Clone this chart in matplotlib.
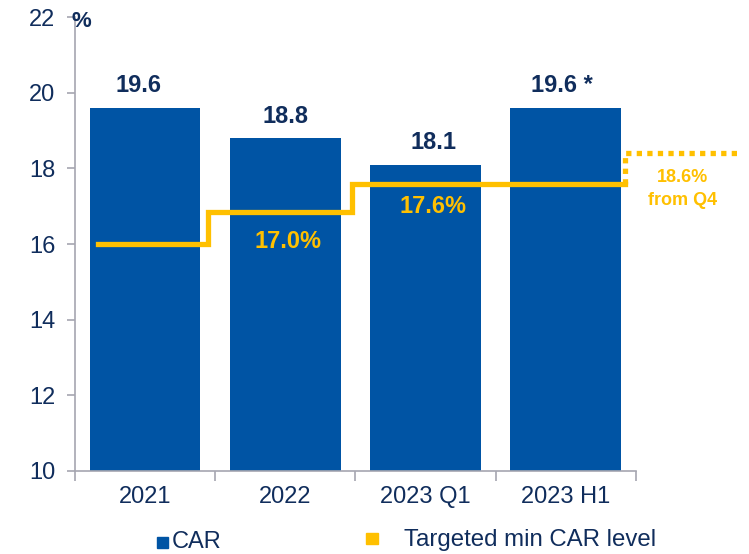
import matplotlib
matplotlib.use('Agg')
import matplotlib.pyplot as plt
from matplotlib.patches import Rectangle
import numpy as np

plt.rcParams['font.family'] = ['Liberation Sans', 'DejaVu Sans']

# data
categories = ['2021', '2022', '2023 Q1', '2023 H1']
car = [19.6, 18.8, 18.1, 19.6]
car_labels = ['19.6', '18.8', '18.1', '19.6 *']
target_levels = [16.0, 16.85, 17.6]
target_labels = ['17.0%', '17.6%']
future_level = 18.4
future_label = '18.6%\nfrom Q4'

blue = '#0054A4'
gold = '#FFC000'
navy = '#102D5C'
grey = '#A6A6B0'

fig = plt.figure(figsize=(7.49, 5.54), dpi=100)
ax = fig.add_axes([0.100, 0.150, 0.749, 0.819])

x = np.arange(len(categories))
ax.bar(x, car, width=0.79, bottom=0, color=blue, zorder=2)
ax.set_ylim(10, 22)
ax.set_xlim(-0.5, 3.5)

lab_dx = [-0.05, 0.0, 0.06, -0.03]
for xi, v, lab, dx in zip(x, car, car_labels, lab_dx):
  ax.text(xi + dx, v + 0.28, lab, ha='center', va='bottom', fontsize=17,
          fontweight='bold', color=navy)

# targeted min CAR step line
sx = [-0.335, 0.45, 0.45, 1.475, 1.475, 3.42]
sy = [target_levels[0], target_levels[0], target_levels[1], target_levels[1],
      target_levels[2], target_levels[2]]
ax.plot(sx, sy, color=gold, lw=3.8, solid_joinstyle='miter', zorder=3, clip_on=False)
ax.plot([3.42, 3.42, 4.24], [target_levels[2], future_level, future_level],
        color=gold, lw=3.8, ls=(0, (1, 1)), zorder=3, clip_on=False)

ax.text(1.02, 16.08, target_labels[0], ha='center', va='center', fontsize=17,
        fontweight='bold', color=gold)
ax.text(2.05, 17.0, target_labels[1], ha='center', va='center', fontsize=17,
        fontweight='bold', color=gold)
ax.text(3.83, 17.45, future_label, ha='center', va='center', fontsize=13,
        fontweight='bold', color=gold, linespacing=1.45, clip_on=False)

# axes styling
for s in ['top', 'right']:
  ax.spines[s].set_visible(False)
for s in ['left', 'bottom']:
  ax.spines[s].set_color(grey)
  ax.spines[s].set_linewidth(1.2)

ax.set_yticks(np.arange(10, 23, 2))
ax.tick_params(axis='y', colors=grey, labelcolor=navy, labelsize=17,
               length=6, width=1.2, direction='out', pad=8)
ax.set_xticks(x)
ax.set_xticklabels(categories)
ax.tick_params(axis='x', which='major', length=0, labelcolor=navy,
               labelsize=17, pad=11)
ax.set_xticks(np.arange(-0.5, 4.0, 1.0), minor=True)
ax.tick_params(axis='x', which='minor', length=7, width=1.2, colors=grey,
               direction='out')

fig.text(0.096, 0.962, '%', ha='left', va='center', fontsize=16,
         fontweight='bold', color=navy)

# legend
fig.patches.append(Rectangle((157 / 749, 1 - 548 / 554), 11 / 749, 11 / 554,
                             transform=fig.transFigure, color=blue))
fig.text(172 / 749, 1 - 542 / 554, 'CAR', ha='left', va='center',
         fontsize=17, color=navy)
fig.patches.append(Rectangle((366 / 749, 1 - 544 / 554), 12 / 749, 11 / 554,
                             transform=fig.transFigure, color=gold))
fig.text(404 / 749, 1 - 540 / 554, 'Targeted min CAR level', ha='left',
         va='center', fontsize=17.3, color=navy)

fig.savefig('out.png', dpi=100)
